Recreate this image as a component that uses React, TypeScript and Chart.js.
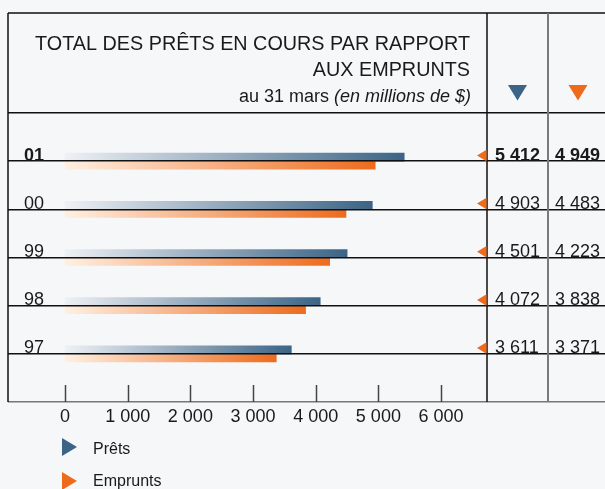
import { useEffect, useRef } from 'react';
import { Chart, registerables } from 'chart.js';

Chart.register(...registerables);

// ---- data ----
const years = ['01', '00', '99', '98', '97'];
const prets = [5412, 4903, 4501, 4072, 3611];
const emprunts = [4949, 4483, 4223, 3838, 3371];
const xTickValues = [0, 1000, 2000, 3000, 4000, 5000, 6000];
const seriesNames = ['Prêts', 'Emprunts'];
const titleLines = ['TOTAL DES PRÊTS EN COURS PAR RAPPORT', 'AUX EMPRUNTS'];
const subtitleNormal = 'au 31 mars ';
const subtitleItalic = '(en millions de $)';

// ---- styles ----
const BG = '#f6f7f9';
const BLUE = '#3c6486';
const BLUE_LIGHT = '#eef1f5';
const ORANGE = '#ee6b1c';
const ORANGE_LIGHT = '#fff0e3';
const INK = '#1a1a1a';
const FONT = "'Liberation Sans', Arial, sans-serif";
const seriesColors = [BLUE, ORANGE];

const fmt = (v: number) => String(v).replace(/\B(?=(\d{3})+(?!\d))/g, ' ');

const pad = <T,>(arr: T[]): (T | null)[] => [null, ...arr, null];

function gradient(light: string, dark: string) {
  return (c: any) => {
    const chart = c.chart;
    const xs = chart.scales && chart.scales.x;
    if (!xs || c.raw == null || !chart.chartArea) return dark;
    const x0 = xs.getPixelForValue(0);
    const x1 = xs.getPixelForValue(c.raw);
    const g = chart.ctx.createLinearGradient(x0, 0, x1, 0);
    g.addColorStop(0, light);
    g.addColorStop(1, dark);
    return g;
  };
}

const COL1 = 487;
const COL2 = 548;
const FRAME_TOP = 13;
const FRAME_LEFT = 8;

const decorPlugin = {
  id: 'decor',
  beforeDraw(chart: any) {
    const { ctx, width, height } = chart;
    ctx.save();
    ctx.fillStyle = BG;
    ctx.fillRect(0, 0, width, height);
    ctx.restore();
  },
  afterDraw(chart: any) {
    const { ctx, chartArea } = chart;
    const xs = chart.scales.x;
    const ys = chart.scales.y;
    const bottom = chartArea.bottom;
    ctx.save();

    // frame
    ctx.lineWidth = 1.5;
    ctx.strokeStyle = '#111';
    ctx.beginPath();
    ctx.moveTo(FRAME_LEFT, FRAME_TOP);
    ctx.lineTo(chart.width, FRAME_TOP);
    ctx.moveTo(FRAME_LEFT, FRAME_TOP);
    ctx.lineTo(FRAME_LEFT, bottom);
    ctx.moveTo(COL1, FRAME_TOP);
    ctx.lineTo(COL1, bottom);
    ctx.stroke();
    ctx.strokeStyle = '#7a7a7a';
    ctx.lineWidth = 2;
    ctx.beginPath();
    ctx.moveTo(COL2, FRAME_TOP);
    ctx.lineTo(COL2, bottom);
    ctx.stroke();

    // x tick marks (inside)
    ctx.strokeStyle = '#444';
    ctx.lineWidth = 1.5;
    ctx.beginPath();
    xTickValues.forEach((v) => {
      const x = Math.round(xs.getPixelForValue(v)) + 0.5;
      ctx.moveTo(x, bottom - 17);
      ctx.lineTo(x, bottom);
    });
    ctx.stroke();

    // title
    ctx.fillStyle = INK;
    ctx.textBaseline = 'alphabetic';
    ctx.textAlign = 'right';
    ctx.font = `19.8px ${FONT}`;
    ctx.fillText(titleLines[0], 470, 50);
    ctx.fillText(titleLines[1], 470, 76);
    ctx.font = `italic 18px ${FONT}`;
    const wIt = ctx.measureText(subtitleItalic).width;
    ctx.fillText(subtitleItalic, 471, 102);
    ctx.font = `18px ${FONT}`;
    ctx.fillText(subtitleNormal, 471 - wIt, 102);

    // header triangles
    const headerTri = (cx: number, color: string) => {
      ctx.fillStyle = color;
      ctx.beginPath();
      ctx.moveTo(cx - 9.5, 85);
      ctx.lineTo(cx + 9.5, 85);
      ctx.lineTo(cx, 100.5);
      ctx.closePath();
      ctx.fill();
    };
    headerTri(517.5, seriesColors[0]);
    headerTri(578, seriesColors[1]);

    // rows: year labels, markers, values
    years.forEach((yr, i) => {
      const y = ys.getPixelForValue(i + 1);
      const bold = i === 0 ? 'bold ' : '';
      ctx.fillStyle = INK;
      ctx.textAlign = 'left';
      ctx.font = `${bold}18px ${FONT}`;
      ctx.fillText(yr, 24, y - 0.5);
      ctx.fillText(fmt(prets[i]), COL1 + 8, y - 0.5);
      ctx.fillText(fmt(emprunts[i]), COL2 + 7, y - 0.5);
      ctx.fillStyle = ORANGE;
      ctx.beginPath();
      ctx.moveTo(COL1 - 0.5, y - 11.5);
      ctx.lineTo(COL1 - 0.5, y);
      ctx.lineTo(COL1 - 10, y - 5.75);
      ctx.closePath();
      ctx.fill();
    });

    // legend
    seriesNames.forEach((name, i) => {
      const cy = 447 + i * 34;
      ctx.fillStyle = seriesColors[i];
      ctx.beginPath();
      ctx.moveTo(62, cy - 9);
      ctx.lineTo(62, cy + 9);
      ctx.lineTo(77, cy);
      ctx.closePath();
      ctx.fill();
      ctx.fillStyle = INK;
      ctx.textAlign = 'left';
      ctx.font = `16px ${FONT}`;
      ctx.fillText(name, 93, 453.5 + i * 32);
    });

    ctx.restore();
  },
};

export default function App() {
  const ref = useRef<HTMLCanvasElement | null>(null);

  useEffect(() => {
    if (!ref.current) return;
    Chart.defaults.font.family = FONT;
    const chart = new Chart(ref.current, {
      type: 'bar',
      data: {
        labels: ['', ...years, ''],
        datasets: [
          {
            label: seriesNames[0],
            data: pad(prets),
            backgroundColor: gradient(BLUE_LIGHT, BLUE),
            borderWidth: 0,
            barThickness: 8,
          },
          {
            label: seriesNames[1],
            data: pad(emprunts),
            backgroundColor: gradient(ORANGE_LIGHT, ORANGE),
            borderWidth: 0,
            barThickness: 8,
          },
        ],
      },
      options: {
        indexAxis: 'y',
        responsive: false,
        animation: false,
        layout: { padding: { left: FRAME_LEFT, right: 0, top: 113, bottom: 57 } },
        plugins: { legend: { display: false }, tooltip: { enabled: false } },
        scales: {
          x: {
            type: 'linear',
            min: -910,
            max: 8616,
            grid: { display: false, drawTicks: false },
            border: { display: false },
            afterBuildTicks: (scale: any) => {
              scale.ticks = xTickValues.map((v) => ({ value: v }));
            },
            afterFit: (scale: any) => {
              scale.height = 30;
            },
            ticks: {
              autoSkip: false,
              maxRotation: 0,
              padding: 4,
              color: INK,
              font: { size: 18, family: FONT },
              callback: (v: any) => fmt(Number(v)),
            },
          },
          y: {
            type: 'category',
            offset: false,
            border: { display: false },
            grid: {
              offset: false,
              drawTicks: false,
              z: 1,
              lineWidth: 1.5,
              color: (c: any) => (c.index === years.length + 1 ? '#777' : '#111'),
            },
            ticks: { display: false },
          },
        },
      },
      plugins: [decorPlugin],
    });
    return () => chart.destroy();
  }, []);

  return (
    <canvas
      ref={ref}
      width={605}
      height={489}
      style={{ position: 'absolute', left: 0, top: 0, display: 'block' }}
    />
  );
}
